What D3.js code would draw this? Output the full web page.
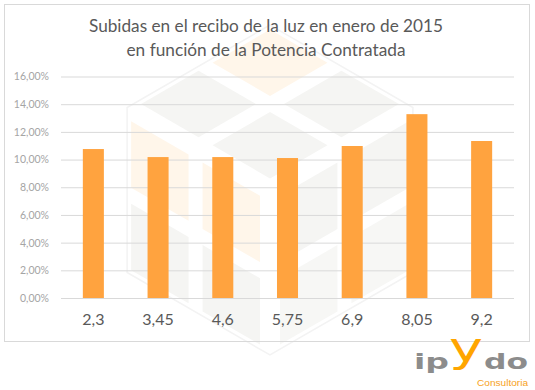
<!DOCTYPE html>
<html>
<head>
<meta charset="utf-8">
<style>
  body { margin: 0; background: #fff; }
  svg { display: block; }
</style>
<script src="https://d3js.org/d3.v7.min.js"></script>
</head>
<body>
<div id="chart"></div>
<script>
// data
const categories = ["2,3", "3,45", "4,6", "5,75", "6,9", "8,05", "9,2"];
const values = [0.1076, 0.1018, 0.1018, 0.1011, 0.1098, 0.1328, 0.1134];
const yTicks = [0, 0.02, 0.04, 0.06, 0.08, 0.10, 0.12, 0.14, 0.16];
const titleLines = ["Subidas en el recibo de la luz en enero de 2015", "en función de la Potencia Contratada"];

const W = 535, H = 390;
const svg = d3.select("#chart").append("svg").attr("width", W).attr("height", H);
svg.append("rect").attr("width", W).attr("height", H).attr("fill", "#fff");

// faint cube watermark behind the plot
function drawWatermark(g, cx, cy, S) {
  const r = [0.866 * S, -0.5 * S], l = [-0.866 * S, -0.5 * S], d = [0, S];
  const faces = [
    { a: r, b: l, cols: ["#f5f5f3", "#f5f5f3", "#f5f5f3", "#fff6ea"] },
    { a: l, b: d, cols: ["#fff6ea", "#f5f5f3", "#fff6ea", "#f5f5f3"] },
    { a: r, b: d, cols: ["#f5f5f3", "#f7f7f5", "#f5f5f3", "#f7f7f5"] }
  ];
  const gap = 0.07;
  faces.forEach(f => {
    let k = 0;
    for (let i = 0; i < 2; i++) for (let j = 0; j < 2; j++) {
      const a0 = i * 0.5 + gap, a1 = (i + 1) * 0.5 - gap * 0.4;
      const b0 = j * 0.5 + gap, b1 = (j + 1) * 0.5 - gap * 0.4;
      const pt = (a, b) => [cx + a * f.a[0] + b * f.b[0], cy + a * f.a[1] + b * f.b[1]];
      g.append("polygon")
        .attr("points", [pt(a0, b0), pt(a1, b0), pt(a1, b1), pt(a0, b1)].map(p => p.join(",")).join(" "))
        .attr("fill", f.cols[k++]);
    }
  });
  const hex = d3.range(6).map(i => {
    const ang = Math.PI / 2 + i * Math.PI / 3;
    return [cx + S * Math.cos(ang), cy - S * Math.sin(ang)];
  });
  g.append("polygon").attr("points", hex.map(p => p.join(",")).join(" "))
    .attr("fill", "none").attr("stroke", "#f3f3f3").attr("stroke-width", 1.5);
}
drawWatermark(svg.append("g"), 270, 190, 165);

// chart frame
svg.append("rect").attr("x", 4.5).attr("y", 4.5).attr("width", 525).attr("height", 337)
  .attr("fill", "none").attr("stroke", "#d9d9d9");

// title
svg.selectAll("text.title").data(titleLines).join("text")
  .attr("class", "title")
  .attr("x", 266).attr("y", (d, i) => 32 + i * 24)
  .attr("text-anchor", "middle")
  .attr("font-family", "Lato, 'Open Sans', sans-serif")
  .attr("font-size", 17).attr("fill", "#595959")
  .attr("textLength", (d, i) => i === 0 ? 354 : 279)
  .attr("lengthAdjust", "spacingAndGlyphs")
  .text(d => d);

const x = d3.scaleBand().domain(categories).range([61, 514]).paddingInner(0.675).paddingOuter(0.3375);
const y = d3.scaleLinear().domain([0, 0.16]).range([298, 76.5]);

// gridlines + y labels
const yAxis = d3.axisLeft(y).tickValues(yTicks).tickSize(-(514 - 61)).tickPadding(12)
  .tickFormat(v => d3.format(".2f")(v * 100).replace(".", ",") + "%");
const gy = svg.append("g").attr("transform", "translate(61,0)").call(yAxis);
gy.select(".domain").remove();
gy.selectAll(".tick line").attr("stroke", "#d9d9d9").attr("stroke-width", 1);
gy.selectAll(".tick text").attr("fill", "#a5a5a5").attr("font-size", 10.5)
  .attr("font-family", "Lato, 'Open Sans', sans-serif");

// bars
svg.selectAll("rect.bar").data(values).join("rect")
  .attr("class", "bar")
  .attr("x", (d, i) => x(categories[i]))
  .attr("width", x.bandwidth())
  .attr("y", d => y(d))
  .attr("height", d => y(0) - y(d))
  .attr("fill", "#ffa33f");

// x labels
const gx = svg.append("g").attr("transform", "translate(0,298)")
  .call(d3.axisBottom(x).tickSize(0).tickPadding(16));
gx.select(".domain").remove();
gx.selectAll(".tick text").attr("fill", "#595959").attr("font-size", 16)
  .attr("font-family", "Lato, 'Open Sans', sans-serif");

// logo
const logo = svg.append("g");
logo.append("text").attr("x", 414).attr("y", 369).attr("font-family", "'DejaVu Sans', sans-serif")
  .attr("font-weight", "bold").attr("font-size", 22).attr("fill", "#8c8c8c")
  .attr("textLength", 35).attr("lengthAdjust", "spacingAndGlyphs").text("ip");
logo.append("text").attr("x", 449).attr("y", 361).attr("font-family", "'DejaVu Sans', sans-serif")
  .attr("font-size", 40).attr("fill", "#ffa500")
  .attr("textLength", 34).attr("lengthAdjust", "spacingAndGlyphs").text("y");
logo.append("text").attr("x", 484).attr("y", 369).attr("font-family", "'DejaVu Sans', sans-serif")
  .attr("font-weight", "bold").attr("font-size", 22).attr("fill", "#8c8c8c")
  .attr("textLength", 44).attr("lengthAdjust", "spacingAndGlyphs").text("do");
logo.append("text").attr("x", 477).attr("y", 386).attr("font-family", "'Liberation Sans', sans-serif")
  .attr("font-size", 9.5).attr("fill", "#f7a21b")
  .attr("textLength", 51).attr("lengthAdjust", "spacingAndGlyphs").text("Consultoria");
</script>
</body>
</html>
